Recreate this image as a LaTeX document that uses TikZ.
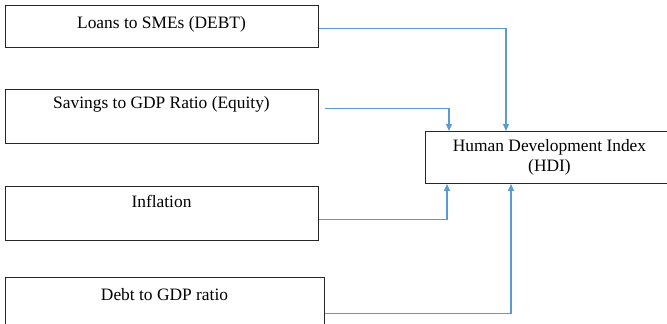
\documentclass[tikz,border=0pt]{standalone}
\usepackage{fontspec}
\setmainfont{Liberation Serif}
\usetikzlibrary{arrows.meta,calc}
\definecolor{linkblue}{HTML}{5B9BD5}
\definecolor{boxline}{HTML}{262626}
\tikzset{
  box/.style={draw=boxline,line width=0.9pt,rectangle,inner sep=0pt,anchor=north west},
  lbl/.style={font=\fontsize{17.4}{19.5}\selectfont,anchor=base,inner sep=0pt,align=center},
  link/.style={draw=linkblue,line width=1.1pt,-{Triangle[length=7pt,width=6pt]}}
}
\begin{document}
\begin{tikzpicture}[x=1pt,y=-1pt]
\useasboundingbox (0,0) rectangle (667,324);
\node[box,minimum width=313pt,minimum height=42pt] (b1) at (5,5) {};
\node[box,minimum width=313pt,minimum height=54pt] (b2) at (5,89) {};
\node[box,minimum width=313pt,minimum height=54pt] (b3) at (5,186) {};
\node[box,minimum width=319pt,minimum height=53pt] (b4) at (5,277) {};
\node[box,minimum width=249pt,minimum height=52pt] (hdi) at (425,131) {};
\node[lbl] (t1) at (161.5,28) {Loans to SMEs (DEBT)};
\node[lbl] (t2) at (161.5,108) {Savings to GDP Ratio (Equity)};
\node[lbl] (t3) at (161.5,207) {Inflation};
\node[lbl] (t4) at (164.5,300) {Debt to GDP ratio};
\node[lbl] (t5) at (549.5,171) {Human Development Index\\(HDI)};
% connectors
\draw[link] ([yshift=-2pt]b1.east) -| ([xshift=81pt]hdi.north west);
\draw[link] ([xshift=6pt,yshift=8pt]b2.east) -| ([xshift=24pt]hdi.north west);
\draw[link] ([yshift=-6pt]b3.east) -| ([xshift=22pt]hdi.south west);
\draw[link] ([yshift=-9.5pt]b4.east) -| ([xshift=86pt]hdi.south west);
\end{tikzpicture}
\end{document}
